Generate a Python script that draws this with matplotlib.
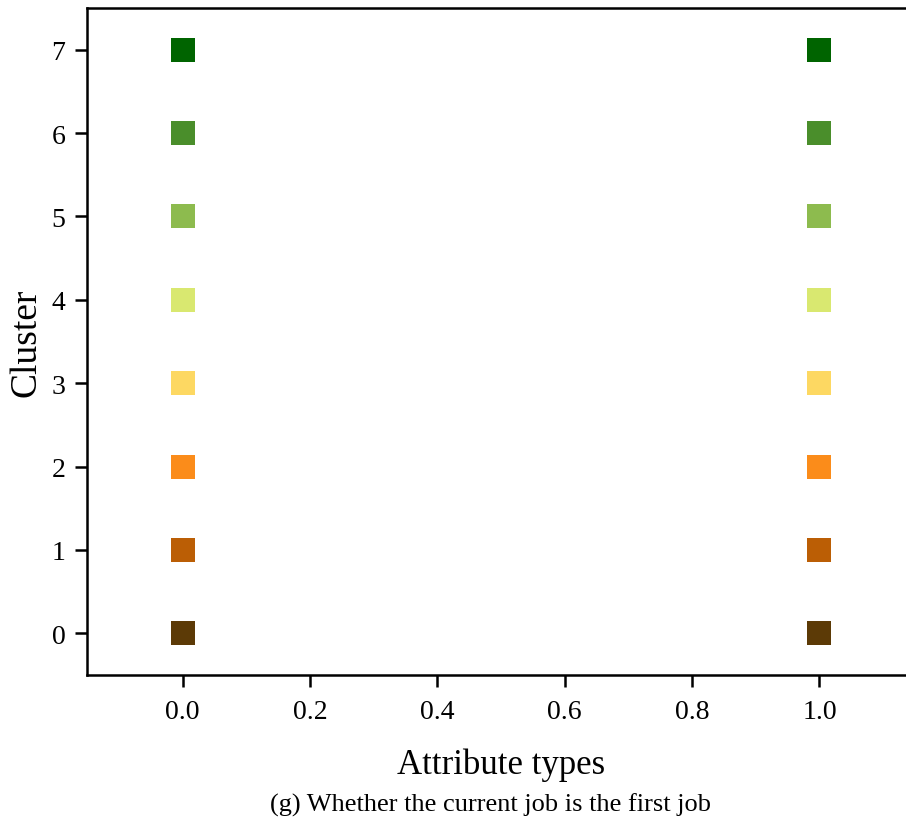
import matplotlib
matplotlib.use("Agg")
import matplotlib.pyplot as plt

plt.rcParams['font.family'] = ['Liberation Serif', 'DejaVu Serif']

# Attribute values (binary) and cluster ids
attribute_values = [0.0, 1.0]
clusters = [0, 1, 2, 3, 4, 5, 6, 7]
cluster_colors = ['#5c3a06', '#bb5e05', '#fb8c1a', '#fdd862',
                  '#d9e870', '#8dbb4e', '#4a8e2b', '#006400']

fig = plt.figure(figsize=(9.06, 8.29), dpi=100)
W, H = 906, 829
left, right, top, bottom = 87, 915, 9, 676
ax = fig.add_axes([left / W, 1 - bottom / H, (right - left) / W, (bottom - top) / H])

for c, col in zip(clusters, cluster_colors):
    ax.scatter(attribute_values, [c] * len(attribute_values), marker='s',
               s=17.5 ** 2, color=col, linewidths=0, zorder=3)

ax.set_xlim(-0.15, 1.15)
ax.set_ylim(-0.5, 7.5)
ax.set_xticks([0.0, 0.2, 0.4, 0.6, 0.8, 1.0])
ax.set_xticklabels(['0.0', '0.2', '0.4', '0.6', '0.8', '1.0'])
ax.set_yticks(clusters)
ax.tick_params(axis='both', labelsize=20, width=1.8, length=8.5)
ax.tick_params(axis='x', pad=9)
ax.tick_params(axis='y', pad=7)
for sp in ax.spines.values():
    sp.set_linewidth(1.8)

ax.set_ylabel('Cluster', fontsize=27, labelpad=6)
fig.text(501 / W, 1 - 765 / H, 'Attribute types', fontsize=25, ha='center', va='center')
fig.text(490 / W, 1 - 805 / H, '(g) Whether the current job is the first job',
         fontsize=19, ha='center', va='center')

fig.savefig('out.png', dpi=100)
